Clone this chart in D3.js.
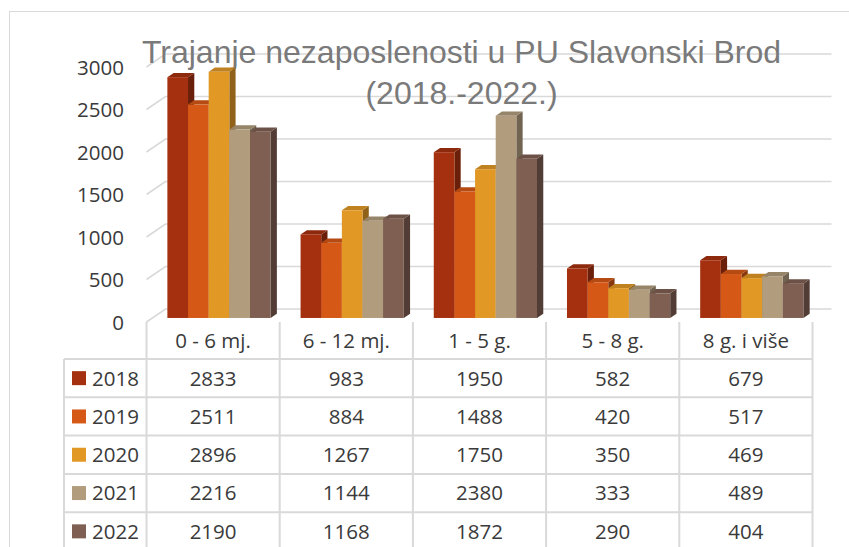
<!DOCTYPE html>
<html>
<head>
<meta charset="utf-8">
<script src="https://cdn.jsdelivr.net/npm/d3@7"></script>
<style>
  html, body { margin: 0; padding: 0; background: #ffffff; }
  svg { display: block; }
</style>
</head>
<body>
<svg id="chart" width="849" height="547"></svg>
<script>
// ---- data ----
const categories = ["0 - 6 mj.", "6 - 12 mj.", "1 - 5 g.", "5 - 8 g.", "8 g. i više"];
const years = ["2018", "2019", "2020", "2021", "2022"];
const values2018 = [2833, 983, 1950, 582, 679];
const values2019 = [2511, 884, 1488, 420, 517];
const values2020 = [2896, 1267, 1750, 350, 469];
const values2021 = [2216, 1144, 2380, 333, 489];
const values2022 = [2190, 1168, 1872, 290, 404];
const seriesColors = ["#A5300F", "#D55816", "#E19825", "#B19C7D", "#7F5F52"];
const yTicks = [0, 500, 1000, 1500, 2000, 2500, 3000];
const titleLines = ["Trajanje nezaposlenosti u PU Slavonski Brod", "(2018.-2022.)"];

const seriesValues = [values2018, values2019, values2020, values2021, values2022];

// ---- layout ----
const svg = d3.select("#chart");
const DX = 19, DY = 13;          // full depth oblique offset
const D0 = 0.31, D1 = 0.64;      // bar depth range
const gridColor = "#d9d9d9";
const textColor = "#3a3a3a";
const tableFont = "'Open Sans', 'DejaVu Sans', sans-serif";

const x = d3.scaleBand().domain(categories).range([146.5, 812.5]).paddingInner(0).paddingOuter(0);
const y = d3.scaleLinear().domain([0, 3000]).range([322, 67]);
const groupW = x.bandwidth() * 0.775;
const xs = d3.scaleBand().domain(years).range([0, groupW]);

// chart border
svg.append("rect")
  .attr("x", 9.5).attr("y", 11.5)
  .attr("width", 1000).attr("height", 1000)
  .attr("fill", "#fff").attr("stroke", gridColor).attr("stroke-width", 1);

// ---- gridlines (side wall + back wall) ----
const x0 = x.range()[0], x1 = x.range()[1];
const grid = svg.append("g");
yTicks.forEach(v => {
  const yf = y(v);
  grid.append("polyline")
    .attr("points", [[x0, yf], [x0 + DX, yf - DY], [x1 + DX, yf - DY]].map(p => p.join(",")).join(" "))
    .attr("fill", "none")
    .attr("stroke", gridColor)
    .attr("stroke-width", 1.6);
});

// ---- y axis labels ----
const axis = d3.axisLeft(y).tickValues(yTicks).tickSize(0).tickPadding(0).tickFormat(d3.format("d"));
const axisG = svg.append("g").attr("transform", "translate(124,0)").call(axis);
axisG.select(".domain").remove();
axisG.selectAll("text")
  .attr("font-family", tableFont)
  .attr("font-size", "20.5px")
  .attr("fill", textColor)
  .attr("dy", "0.36em");

// ---- title ----
const title = svg.append("text")
  .attr("x", 461.5)
  .attr("text-anchor", "middle")
  .attr("font-family", "'Liberation Sans', Arial, sans-serif")
  .attr("font-size", "32px")
  .attr("fill", "#7a7a7a");
titleLines.forEach((t, i) => {
  title.append("tspan").attr("x", 461.5).attr("y", 63 + i * 41).text(t);
});

// ---- bars ----
const bars = svg.append("g");
categories.forEach((cat, ci) => {
  const gx = x(cat) + (x.bandwidth() - groupW) / 2;
  years.forEach((yr, si) => {
    const v = seriesValues[si][ci];
    const c = d3.color(seriesColors[si]);
    const bx0 = gx + xs(yr) + DX * D0;
    const bx1 = bx0 + xs.bandwidth();
    const yt = y(v) - DY * D0;
    const yb = y(0) - DY * D0;
    const ddx = DX * (D1 - D0), ddy = DY * (D1 - D0);
    // side
    bars.append("polygon")
      .attr("points", [[bx1, yb], [bx1, yt], [bx1 + ddx, yt - ddy], [bx1 + ddx, yb - ddy]].map(p => p.join(",")).join(" "))
      .attr("fill", c.darker(1.25).formatHex());
    // top
    bars.append("polygon")
      .attr("points", [[bx0, yt], [bx1, yt], [bx1 + ddx, yt - ddy], [bx0 + ddx, yt - ddy]].map(p => p.join(",")).join(" "))
      .attr("fill", c.darker(0.45).formatHex());
    // front
    bars.append("rect")
      .attr("x", bx0).attr("y", yt)
      .attr("width", bx1 - bx0).attr("height", yb - yt)
      .attr("fill", c.formatHex());
  });
});

// ---- data table ----
const rowTop = 359, rowH = 38.3, legendLeft = 64;
const table = svg.append("g");
// horizontal lines
for (let r = 0; r <= years.length; r++) {
  const yy = rowTop + r * rowH;
  table.append("line")
    .attr("x1", legendLeft).attr("x2", x1)
    .attr("y1", yy).attr("y2", yy)
    .attr("stroke", gridColor).attr("stroke-width", 2);
}
// vertical lines
const colEdges = categories.map(c => x(c)).concat([x1]);
colEdges.forEach(cx => {
  table.append("line")
    .attr("x1", cx).attr("x2", cx)
    .attr("y1", 322).attr("y2", rowTop + years.length * rowH)
    .attr("stroke", gridColor).attr("stroke-width", 2);
});
table.append("line")
  .attr("x1", legendLeft).attr("x2", legendLeft)
  .attr("y1", rowTop).attr("y2", rowTop + years.length * rowH)
  .attr("stroke", gridColor).attr("stroke-width", 2);

// header
categories.forEach(cat => {
  table.append("text")
    .attr("x", x(cat) + x.bandwidth() / 2)
    .attr("y", 340.5)
    .attr("dy", "0.36em")
    .attr("text-anchor", "middle")
    .attr("font-family", tableFont)
    .attr("font-size", "20.5px")
    .attr("fill", textColor)
    .text(cat);
});
// rows
years.forEach((yr, si) => {
  const cy = rowTop + si * rowH + rowH / 2;
  table.append("rect")
    .attr("x", 72).attr("y", cy - 7)
    .attr("width", 14).attr("height", 14)
    .attr("fill", seriesColors[si]);
  table.append("text")
    .attr("x", 92).attr("y", cy).attr("dy", "0.36em")
    .attr("font-family", tableFont).attr("font-size", "20.5px")
    .attr("fill", textColor)
    .text(yr);
  categories.forEach((cat, ci) => {
    table.append("text")
      .attr("x", x(cat) + x.bandwidth() / 2)
      .attr("y", cy).attr("dy", "0.36em")
      .attr("text-anchor", "middle")
      .attr("font-family", tableFont).attr("font-size", "20.5px")
      .attr("fill", textColor)
      .text(seriesValues[si][ci]);
  });
});
</script>
</body>
</html>
